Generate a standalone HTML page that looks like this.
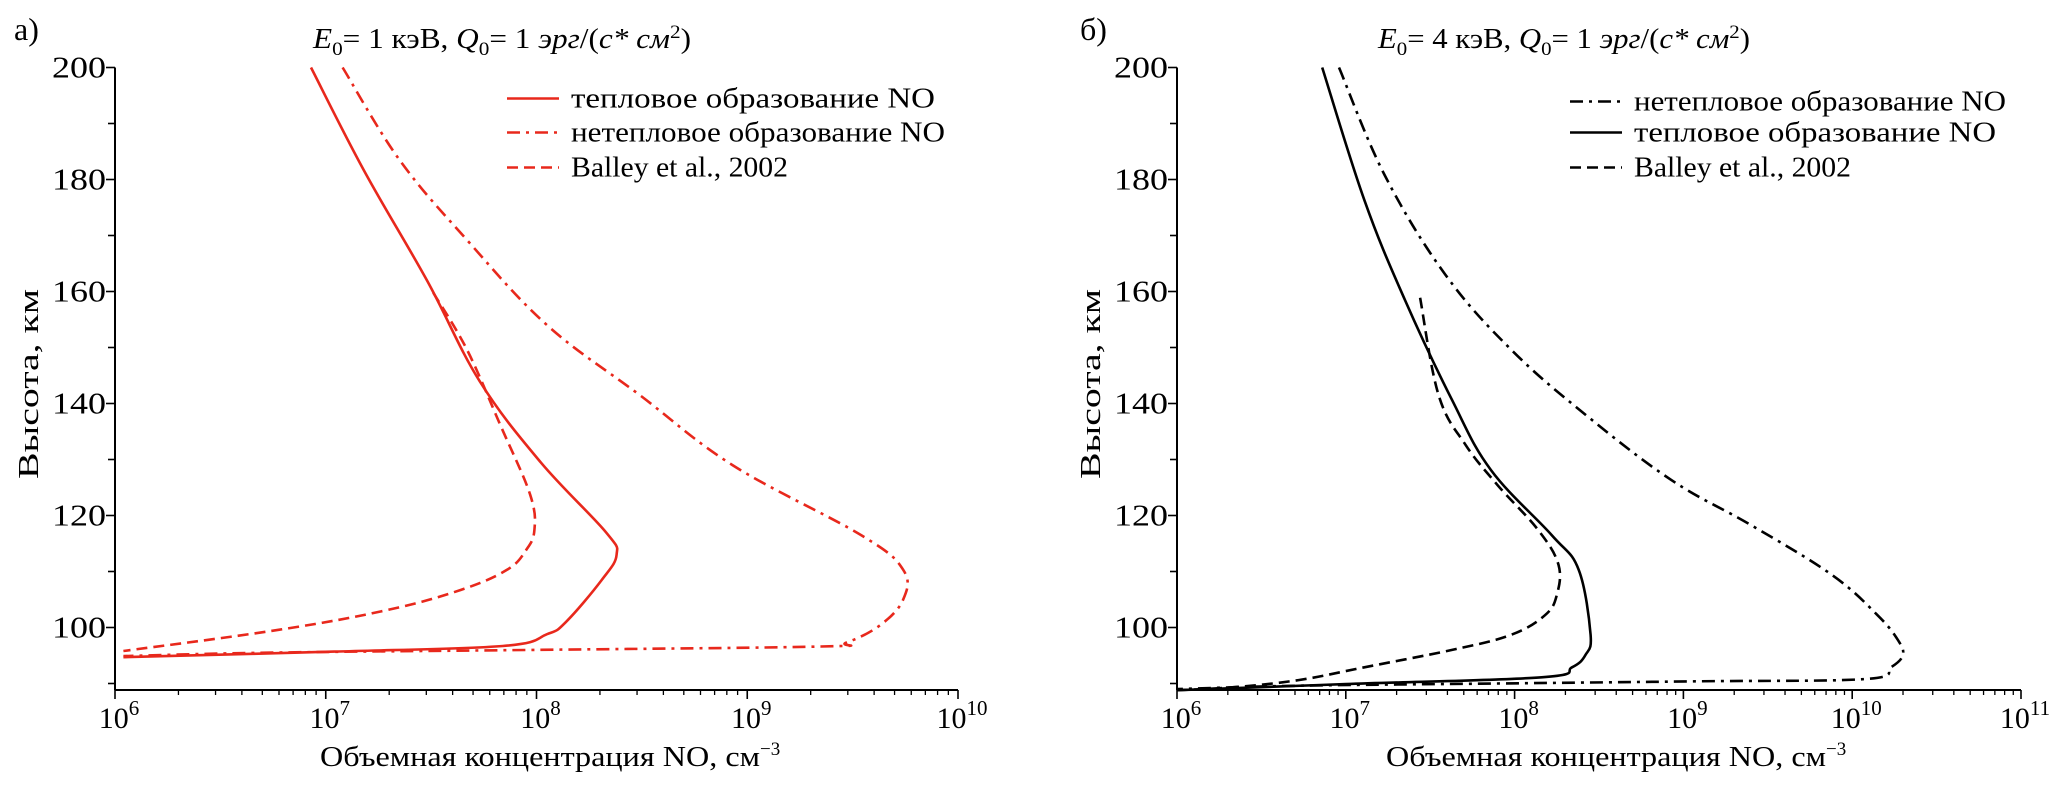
<!DOCTYPE html>
<html><head><meta charset="utf-8"><style>
html,body{margin:0;padding:0;background:#fff;overflow:hidden;}
svg text{font-family:"Liberation Serif",serif;}
</style></head><body>
<svg id="fig" width="2064" height="781" viewBox="0 0 2064 781" xmlns="http://www.w3.org/2000/svg"></svg>
<script>
// ---- Panel a data (log10 concentration, altitude km) ----
const aThermalLog = [6.93,7.18,7.48,7.73,8.02,8.33,8.38,8.31,8.14,8.05,7.84,7.04,6.04];
const aThermalAlt = [200,181.7,162,144,129.5,117,113,108.5,101,98.8,96.7,95.7,94.7];
const aNonThermalLog = [7.08,7.35,7.67,8.05,8.49,8.93,9.54,9.74,9.74,9.63,9.47,9.35,7.99,6.72,6.04];
const aNonThermalAlt = [200,183.5,169.2,154,141.5,129,116.5,110.3,105,100.4,97.3,96.6,96,95.5,94.9];
const aBalleyLog = [7.51,7.67,7.83,7.97,7.99,7.95,7.86,7.64,7.29,6.78,6.04];
const aBalleyAlt = [159.8,149.6,136,123.7,117.4,113.8,110.3,106.7,103.1,99.6,95.8];
// ---- Panel b data ----
const bThermalLog = [6.86,7.11,7.35,7.63,7.86,8.22,8.38,8.45,8.42,8.34,8.16,7.0,6.0];
const bThermalAlt = [200,176.3,158.5,140.6,128.1,116.5,110.3,98.7,95.1,92.9,91.1,89.9,88.8];
const bNonThermalLog = [6.96,7.23,7.59,7.98,8.42,8.93,9.40,9.88,10.15,10.27,10.30,10.23,10.08,9.09,7.9,6.72,6.0];
const bNonThermalAlt = [200,180.8,163,149.6,138,126.3,118.3,109.4,102.2,97.8,95.1,92.9,90.8,90.4,90.0,89.6,89.0];
const bBalleyLog = [7.44,7.55,7.71,7.90,8.14,8.26,8.25,8.18,7.98,7.63,7.11,6.72,6.32,6.0];
const bBalleyAlt = [158.9,141.5,132.6,125.4,117.4,111.2,105.8,102.2,98.7,96,92.9,90.6,89.3,88.8];
const yTicks = [100,120,140,160,180,200];
const aXDecades = [6,7,8,9,10];
const bXDecades = [6,7,8,9,10,11];

const NS="http://www.w3.org/2000/svg";
const svg=document.getElementById('fig');
function mk(tag,attrs,parent){const e=document.createElementNS(NS,tag);for(const k in attrs)e.setAttribute(k,attrs[k]);(parent||svg).appendChild(e);return e;}
function txt(x,y,s,size,opts,parent){opts=opts||{};const t=mk('text',{x:x,y:y,'font-size':size,fill:'#000','text-anchor':opts.anchor||'start'},parent);if(opts.len){t.setAttribute('textLength',opts.len);t.setAttribute('lengthAdjust','spacingAndGlyphs');}t.textContent=s;return t;}
function smooth(pts){
  let d='M'+pts[0][0].toFixed(1)+' '+pts[0][1].toFixed(1);
  for(let i=0;i<pts.length-1;i++){
    const p0=pts[Math.max(0,i-1)],p1=pts[i],p2=pts[i+1],p3=pts[Math.min(pts.length-1,i+2)];
    const t=0.18;
    const c1=[p1[0]+(p2[0]-p0[0])*t,p1[1]+(p2[1]-p0[1])*t];
    const c2=[p2[0]-(p3[0]-p1[0])*t,p2[1]-(p3[1]-p1[1])*t];
    d+=` C${c1[0].toFixed(1)} ${c1[1].toFixed(1)} ${c2[0].toFixed(1)} ${c2[1].toFixed(1)} ${p2[0].toFixed(1)} ${p2[1].toFixed(1)}`;
  }
  return d;
}

function panel(cfg){
  const g=mk('g',{});
  
  
  const x0=cfg.x0, x1=cfg.x1, yTop=67.5, yBot=690;
  const dmin=cfg.dec[0], dmax=cfg.dec[cfg.dec.length-1];
  const xs=v=>x0+(v-dmin)/(dmax-dmin)*(x1-x0);
  const ys=a=>67.5+(200-a)*5.6;
  const ax=mk('g',{},g);
  
  
  mk('line',{x1:x0,y1:yTop,x2:x0,y2:yBot,stroke:'#000','stroke-width':2},ax);
  mk('line',{x1:x0,y1:yBot,x2:x1,y2:yBot,stroke:'#000','stroke-width':2},ax);
  for(let a=90;a<=200;a+=10){
    const major=a%20===0;
    mk('line',{x1:x0-(major?9:7),y1:ys(a),x2:x0,y2:ys(a),stroke:'#000','stroke-width':1.6},ax);
  }
  yTicks.forEach(a=>{
    const t=txt(x0-9,ys(a)+10,String(a),31,{anchor:'end',len:54},ax);
    
    
  });
  for(let d=dmin;d<=dmax;d++){
    mk('line',{x1:xs(d),y1:yBot,x2:xs(d),y2:yBot+9,stroke:'#000','stroke-width':1.6},ax);
    const t=mk('text',{x:xs(d)+4,y:yBot+38,'font-size':30,'text-anchor':'middle',fill:'#000'},ax);
    
    
    t.textContent='10';
    const sp=mk('tspan',{dy:-13,'font-size':21},t); sp.textContent=String(d);
    if(d<dmax){for(let m=2;m<=9;m++){const xx=xs(d+Math.log10(m));mk('line',{x1:xx,y1:yBot,x2:xx,y2:yBot+5,stroke:'#000','stroke-width':1.3},ax);}}
  }
  const xl=mk('text',{x:cfg.xTitleX,y:766,'font-size':29,fill:'#000'},g);
  
  
  const xm=mk('tspan',{textLength:440,lengthAdjust:'spacingAndGlyphs'},xl); xm.textContent='Объемная концентрация NO, см';
  const sp=mk('tspan',{dy:-11,'font-size':19},xl); sp.textContent='−3';
  const yl=mk('text',{x:0,y:0,'font-size':29,'text-anchor':'middle',fill:'#000',transform:`translate(${cfg.yTitleX},384) rotate(-90)`,textLength:190,lengthAdjust:'spacingAndGlyphs'},g);
  yl.textContent='Высота, км';
  
  
  const pl=txt(cfg.labelX,40,cfg.label,32,{},g);
  
  
  const ti=mk('text',{x:cfg.titleX,y:48,'font-size':28,fill:'#000',textLength:cfg.titleLen,lengthAdjust:'spacingAndGlyphs'},g);
  
  
  ti.innerHTML=`<tspan font-style="italic">E</tspan><tspan dy="7" font-size="19">0</tspan><tspan dy="-7">= ${cfg.E} кэВ, </tspan><tspan font-style="italic">Q</tspan><tspan dy="7" font-size="19">0</tspan><tspan dy="-7">= 1 </tspan><tspan font-style="italic">эрг</tspan><tspan>/(</tspan><tspan font-style="italic">c* см</tspan><tspan dy="-10" font-size="19">2</tspan><tspan dy="10">)</tspan>`;
  cfg.series.forEach(s=>{
    const pts=s.log.map((v,i)=>[xs(v),ys(s.alt[i])]);
    const p=mk('path',{d:smooth(pts),fill:'none',stroke:cfg.color,'stroke-width':2.6,'stroke-dasharray':s.dash,'stroke-linejoin':'round'},g);
    
    
  });
  const lg=mk('g',{},g);
  
  
  cfg.legend.forEach((l,i)=>{
    const y=cfg.legY[i];
    const e=mk('g',{},lg);
    
    
    mk('line',{x1:cfg.legX,y1:y,x2:cfg.legX+52,y2:y,stroke:cfg.color,'stroke-width':2.6,'stroke-dasharray':l.dash},e);
    txt(cfg.legX+64,y+9,l.text,28,{len:l.len},e);
  });
}
const DD='13 6 3 6', DA='11 6';
panel({name:'panel-a',x0:115,x1:958,dec:aXDecades,color:'#e8281c',label:'а)',labelX:14,titleX:313,titleLen:378,E:1,xTitleX:320,yTitleX:38,
  series:[{name:'thermal-line',log:aThermalLog,alt:aThermalAlt,dash:'none'},
          {name:'nonthermal-line',log:aNonThermalLog,alt:aNonThermalAlt,dash:DD},
          {name:'balley-line',log:aBalleyLog,alt:aBalleyAlt,dash:DA}],
  legX:507,legY:[98.5,132.5,167.5],
  legend:[{text:'тепловое образование NO',dash:'none',len:364},{text:'нетепловое образование NO',dash:DD,len:374},{text:'Balley et al., 2002',dash:DA,len:217}]
});
panel({name:'panel-b',x0:1177,x1:2021,dec:bXDecades,color:'#000',label:'б)',labelX:1080,titleX:1378,titleLen:372,E:4,xTitleX:1386,yTitleX:1100,
  series:[{name:'thermal-line',log:bThermalLog,alt:bThermalAlt,dash:'none'},
          {name:'nonthermal-line',log:bNonThermalLog,alt:bNonThermalAlt,dash:DD},
          {name:'balley-line',log:bBalleyLog,alt:bBalleyAlt,dash:DA}],
  legX:1570,legY:[101.5,132.5,167.5],
  legend:[{text:'нетепловое образование NO',dash:DD,len:372},{text:'тепловое образование NO',dash:'none',len:362},{text:'Balley et al., 2002',dash:DA,len:217}]
});
</script>
</body></html>
